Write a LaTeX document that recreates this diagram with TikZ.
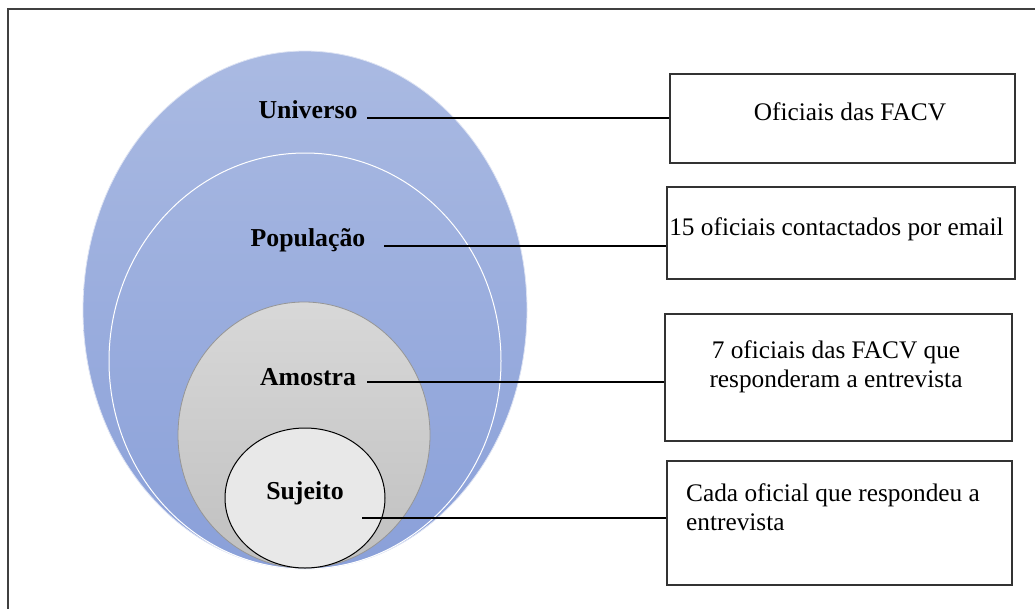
\documentclass[tikz,border=0pt]{standalone}
\usepackage{fontspec}
\setmainfont{Liberation Serif}
\usetikzlibrary{shapes.geometric}
\definecolor{univtop}{RGB}{170,186,226}
\definecolor{univbot}{RGB}{138,160,217}
\definecolor{amtop}{RGB}{216,216,216}
\definecolor{ambot}{RGB}{192,192,192}
\definecolor{amline}{RGB}{150,150,150}
\definecolor{sujfill}{RGB}{232,232,232}
\definecolor{frame}{RGB}{64,64,64}
\tikzset{
  ell/.style={ellipse, inner sep=0pt},
  lbl/.style={font=\fontsize{25.8}{30}\selectfont\bfseries, inner sep=0pt},
  txt/.style={font=\fontsize{25.3}{29}\selectfont, inner sep=0pt},
  box/.style={draw=black!80, line width=1.2pt, inner sep=0pt},
  conn/.style={draw=black, line width=1.2pt}
}
\begin{document}
\begin{tikzpicture}[x=1pt,y=-1pt]
\useasboundingbox (0,0) rectangle (1035,608);
% outer frame (only top and left visible)
\draw[frame, line width=2pt] (8,640) -- (8,9) -- (1060,9);
% nested ellipses
\node[ell, top color=univtop, bottom color=univbot, draw=white!60!univtop, line width=0.8pt,
      minimum width=444, minimum height=518] (univ) at (305,310) {};
\node[ell, draw=white, line width=1pt, minimum width=392, minimum height=416] (pop) at (305,361) {};
\node[ell, top color=amtop, bottom color=ambot, draw=amline, line width=0.8pt,
      minimum width=252, minimum height=266] (amo) at (304,435) {};
\node[ell, fill=sujfill, draw=black, line width=1pt, minimum width=160, minimum height=140] (suj) at (305,498) {};
% labels
\node[lbl] (tuniv) at (308,110) {Universo};
\node[lbl] (tpop) at (308,240) {População};
\node[lbl] (tamo) at (308,377) {Amostra};
\node[lbl] (tsuj) at (305,493) {Sujeito};
% boxes
\node[box, minimum width=345, minimum height=89] (b1) at (842.5,118.5) {};
\node[box, minimum width=348, minimum height=92] (b2) at (841,233) {};
\node[box, minimum width=347, minimum height=127] (b3) at (838.5,377.5) {};
\node[box, minimum width=345, minimum height=124] (b4) at (839.5,523) {};
% box texts
\node[txt] (t1) at (850,112) {Oficiais das FACV};
\node[txt] (t2) at (836.5,229) {15 oficiais contactados por email};
\node[txt, align=center] (t3) at (836,367) {7 oficiais das FACV que\\responderam a entrevista};
\node[txt, align=left, anchor=west] (t4) at (686,507) {Cada oficial que respondeu a\\entrevista};
% connectors
\coordinate (s1) at (367,118);
\coordinate (s2) at (384,246);
\coordinate (s3) at (367,382);
\coordinate (s4) at (362,518);
\draw[conn] (s1) -- (s1 -| b1.west);
\draw[conn] (s2) -- (s2 -| b2.west);
\draw[conn] (s3) -- (s3 -| b3.west);
\draw[conn] (s4) -- (s4 -| b4.west);
\end{tikzpicture}
\end{document}
